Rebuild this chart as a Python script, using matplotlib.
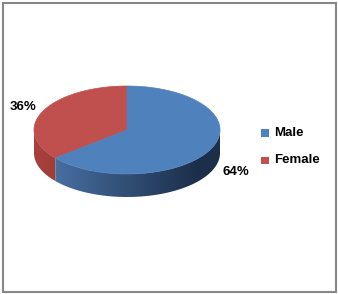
import numpy as np
import matplotlib
matplotlib.use('Agg')
import matplotlib.pyplot as plt
from matplotlib.patches import Polygon, Rectangle
from matplotlib.colors import to_rgb

labels = ['Male', 'Female']
shares = [64, 36]
top_colors = ['#4f81bd', '#c0504d']
side_light = ['#4d78ad', '#a8403d']
side_dark = ['#1c2f4a', '#7a2c2a']

W, H = 338, 294
fig = plt.figure(figsize=(W / 100, H / 100), dpi=100)
ax = fig.add_axes([0, 0, 1, 1])
ax.set_xlim(0, W)
ax.set_ylim(H, 0)
ax.axis('off')

# chart border
ax.add_patch(Rectangle((2.5, 2.5), 333, 289, fill=False, edgecolor='#878787', lw=1.5))

cx, cy, a, b, depth = 127, 130, 93, 44, 23

def pt(t):
    return cx + a * np.cos(t), cy - b * np.sin(t)

# slice angles: Female starts at 12 o'clock going counter-clockwise, Male fills the rest
fracs = np.array(shares) / sum(shares)
female_end = 90 + 360 * fracs[1]
spans = {1: (90, female_end), 0: (female_end, 450)}

# side wall (front half only), shaded left to right
x0, x1 = cx - a - 1, cx + a + 1
y0, y1 = cy - 1, cy + b + depth + 1
f = np.clip((np.linspace(x0, x1, 300) - (cx - a)) / (1.75 * a), 0, 1)
for i, (t0, t1) in spans.items():
    lo, hi = max(t0, 180), min(t1, 360)
    if lo >= hi:
        continue
    ts = np.radians(np.linspace(lo, hi, 200))
    xs, ys = pt(ts)
    verts = list(zip(xs, ys)) + list(zip(xs[::-1], ys[::-1] + depth))
    poly = Polygon(verts, closed=True, facecolor='none', edgecolor='none')
    ax.add_patch(poly)
    c1, c2 = np.array(to_rgb(side_light[i])), np.array(to_rgb(side_dark[i]))
    row = c1[None, :] + (c2 - c1)[None, :] * f[:, None]
    img = np.repeat(row[None, :, :], 2, axis=0)
    im = ax.imshow(img, extent=[x0, x1, y1, y0], aspect='auto', interpolation='bilinear')
    im.set_clip_path(poly)

ax.set_xlim(0, W)
ax.set_ylim(H, 0)

# top faces
for i, (t0, t1) in spans.items():
    ts = np.radians(np.linspace(t0, t1, 200))
    xs, ys = pt(ts)
    verts = [(cx, cy)] + list(zip(xs, ys))
    ax.add_patch(Polygon(verts, closed=True, facecolor=top_colors[i], edgecolor=top_colors[i], lw=0.5))

font = dict(family=['Liberation Sans', 'DejaVu Sans'], fontweight='bold', fontsize=9.5)
ax.text(23, 107, f'{shares[1]}%', ha='center', va='center', **font)
ax.text(236, 172, f'{shares[0]}%', ha='center', va='center', **font)

# legend
for i, yy in enumerate([132.5, 160]):
    ax.add_patch(Rectangle((261, yy - 3.5), 7.5, 7.5, facecolor=top_colors[i], edgecolor='none'))
    ax.text(274, yy, labels[i], ha='left', va='center', **font)

fig.savefig('out.png', dpi=100)
